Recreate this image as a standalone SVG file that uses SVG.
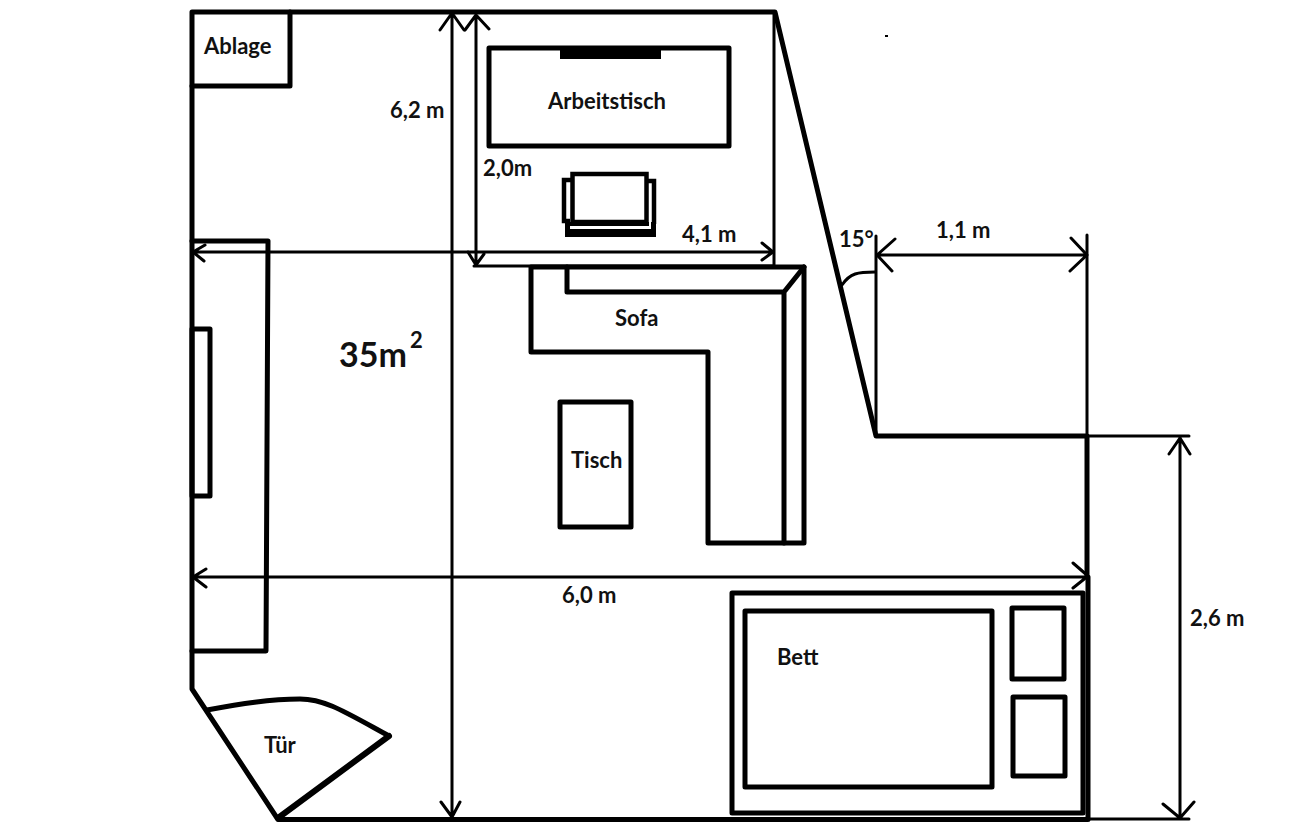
<svg xmlns="http://www.w3.org/2000/svg" width="1305" height="828" viewBox="0 0 1305 828">
<style>
.w{fill:none;stroke:#000;stroke-width:5;stroke-linejoin:round;stroke-linecap:round}
.m{fill:none;stroke:#000;stroke-width:4.5;stroke-linejoin:miter}
.d{fill:none;stroke:#000;stroke-width:3;stroke-linecap:round;stroke-linejoin:round}
text{font-family:"Lato","Liberation Sans",sans-serif;font-weight:700;font-size:22px;fill:#111}
</style>
<rect width="1305" height="828" fill="#fff"/>
<g id="walls">
<path class="w" d="M192 12H775L876 436H1087V577H1088V819.5H278L192 689Z"/>
</g>
<g id="ablage"><path class="w" d="M192 86H290V12"/><text x="204" y="54">Ablage</text></g>
<g id="arbeitstisch">
<rect class="w" x="489" y="48" width="240" height="98"/>
<rect x="560" y="46" width="101" height="13" fill="#000"/>
<text x="548" y="109">Arbeitstisch</text>
</g>
<g id="stuhl">
<rect x="565" y="222" width="91" height="15" fill="#000"/>
<rect x="570" y="226" width="81" height="3" fill="#fff"/>
<rect x="649" y="181" width="2" height="47" fill="#fff"/>
<path class="m" d="M572 180H564V221H570M648 181H654V224"/>
<rect class="m" x="572.5" y="174" width="74" height="48"/>
</g>
<g id="schrank">
<path class="w" d="M192 241H268L266 651H192"/>
<rect class="w" x="192" y="329" width="18" height="167"/>
</g>
<g id="sofa">
<path class="w" d="M531 267H804V543H708V352H531Z"/>
<path class="w" d="M567 267V292H784V543M784 292L804 267"/>
<text x="615" y="326">Sofa</text>
</g>
<g id="tisch"><rect class="w" x="560" y="402" width="71" height="125"/><text x="571" y="468">Tisch</text></g>
<g id="bett">
<rect class="w" x="732" y="593" width="351" height="220"/>
<rect class="w" x="745" y="611" width="247" height="176"/>
<rect class="w" x="1012" y="608" width="52" height="71"/>
<rect class="w" x="1013" y="697" width="52" height="79"/>
<text x="777" y="665">Bett</text>
</g>
<g id="tuer">
<path class="w" d="M207 710C240 704 270 699 300 699C325 699 345 712 389 736"/>
<path fill="none" stroke="#000" stroke-width="6" stroke-linecap="round" d="M389 736L278 818"/>
<text x="264" y="753">Tür</text>
</g>
<g id="connectors">
<path class="d" d="M452 13V817M440 30L452 13L464 30M441 802L452 817L460 802"/>
<path class="d" d="M476 15V265M465 30L476 15L489 29M468 252L476 265L484 254"/>
<path class="d" d="M192 252H773M205 245L193 252L204 261M762 243L773 252L762 260"/>
<path class="d" d="M474 266H774V12"/>
<path class="d" d="M192 577H1087M206 569L193 577L206 587M1073 563L1088 576L1073 588"/>
<path class="d" d="M876 236V436M1087 235V436"/>
<path class="d" d="M877 255H1087M895 239L877 255L892 271M1071 238L1087 255L1070 271"/>
<path class="d" d="M1087 436H1189M1180 437V818M1169 454L1180 438L1190 454M1163 804L1180 818L1194 802M1087 819H1189"/>
<path class="d" d="M842 285C850 273 858 272 875 272"/>
<rect x="885" y="35" width="3" height="2" fill="#000"/>
</g>
<g id="labels">
<text x="390" y="118">6,2 m</text>
<text x="483" y="176">2,0m</text>
<text x="682" y="242">4,1 m</text>
<text x="839" y="247">15°</text>
<text x="936" y="238">1,1 m</text>
<text x="562" y="603">6,0 m</text>
<text x="1190" y="626">2,6 m</text>
<text x="339" y="367" style="font-size:34px">35m</text>
<text x="410" y="348">2</text>
</g>
</svg>
